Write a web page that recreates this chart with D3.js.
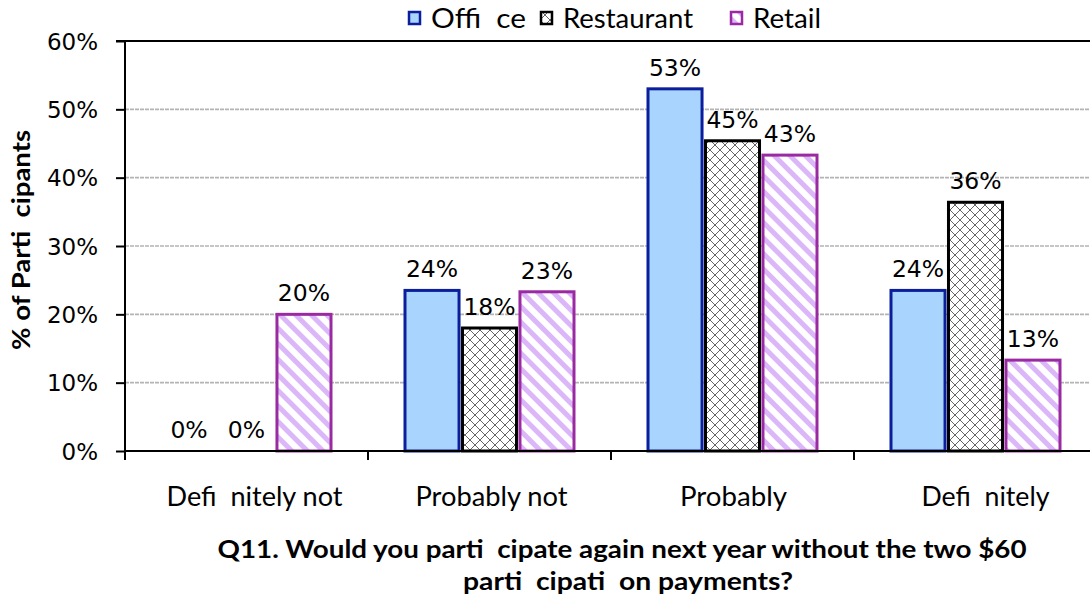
<!DOCTYPE html>
<html><head><meta charset="utf-8">
<script src="https://cdn.jsdelivr.net/npm/d3@7"></script>
<style>body{margin:0;background:#fff}svg{display:block}text{white-space:pre}</style>
</head><body>
<svg id="c" width="1090" height="599"></svg>
<script>
const categories = ["Defi  nitely not", "Probably not", "Probably", "Defi  nitely"];
const seriesNames = ["Offi  ce", "Restaurant", "Retail"];
const office = [0, 23.5, 53, 23.5];
const restaurant = [0, 18, 45.4, 36.4];
const retail = [20, 23.3, 43.3, 13.3];
const yTicks = [0, 10, 20, 30, 40, 50, 60];
const yTitle = "% of Parti  cipants";
const xTitle = ["Q11. Would you parti  cipate again next year without the two $60", "parti  cipati  on payments?"];

const values = [office, restaurant, retail];
const svg = d3.select("#c");
const defs = svg.append("defs");
// crosshatch
const ph = defs.append("pattern").attr("id","hatch").attr("patternUnits","userSpaceOnUse").attr("width",10).attr("height",10);
ph.append("rect").attr("width",10).attr("height",10).attr("fill","#fff");
ph.append("path").attr("d","M0,0L10,10M10,0L0,10M-1,9L1,11M9,-1L11,1M-1,1L1,-1M9,11L11,9").attr("stroke","#666").attr("stroke-width",1);
// stripes
const ps = defs.append("pattern").attr("id","stripe").attr("patternUnits","userSpaceOnUse").attr("width",11).attr("height",11).attr("patternTransform","rotate(45)");
ps.append("rect").attr("width",11).attr("height",11).attr("fill","#fff");
ps.append("rect").attr("width",11).attr("height",5).attr("fill","#dbb6f8");

const styles = [
  {fill:"#a9d4fd", stroke:"#0b1f9c"},
  {fill:"url(#hatch)", stroke:"#000"},
  {fill:"url(#stripe)", stroke:"#9a2aa2"}
];

const pLeft = 125, pTop = 41, pBottom = 451;
const x0 = d3.scaleBand().domain(categories).range([pLeft, pLeft + 4*243]).padding(0);
const x1 = d3.scaleBand().domain(seriesNames).range([37, 206]).paddingInner(0.06);
const y = d3.scaleLinear().domain([0, 60]).range([pBottom, pTop]);

// gridlines
svg.append("g").selectAll("line").data(yTicks.filter(t => t > 0 && t < 60)).join("line")
  .attr("x1", pLeft).attr("x2", 1090).attr("y1", d => y(d)).attr("y2", d => y(d))
  .attr("stroke", "#b4b4b4").attr("stroke-width", 1.6).attr("stroke-dasharray", "4,1");
// top border
svg.append("line").attr("x1", pLeft).attr("x2", 1090).attr("y1", y(60)).attr("y2", y(60)).attr("stroke","#000").attr("stroke-width",2);

// bars
const g = svg.append("g");
categories.forEach((c, i) => {
  seriesNames.forEach((s, j) => {
    const v = values[j][i];
    const bx = x0(c) + x1(s);
    if (v > 0) {
      g.append("rect").attr("x", bx).attr("y", y(v)).attr("width", x1.bandwidth()).attr("height", y(0) - y(v))
        .attr("fill", styles[j].fill).attr("stroke", styles[j].stroke).attr("stroke-width", 3);
    }
    g.append("text").attr("x", bx + x1.bandwidth()/2).attr("y", y(v) - 13).attr("text-anchor","middle")
      .attr("font-family","DejaVu Sans").attr("font-size", 23.5).attr("fill","#000")
      .text(Math.round(v) + "%");
  });
});

// y axis
const ya = svg.append("g").attr("transform", `translate(${pLeft},0)`)
  .call(d3.axisLeft(y).tickValues(yTicks).tickFormat(d => d + "%").tickSize(9).tickPadding(18));
ya.select(".domain").attr("stroke","#000").attr("stroke-width",2).attr("d", `M-9,${pTop}H0V${pBottom}`);
ya.selectAll(".tick line").attr("stroke","#000").attr("stroke-width",2);
ya.selectAll(".tick text").attr("font-family","DejaVu Sans").attr("font-size",23).attr("fill","#000").attr("dy","0.36em");

// x axis
const xa = svg.append("g").attr("transform", `translate(0,${pBottom})`);
xa.append("line").attr("x1", pLeft).attr("x2", 1090).attr("stroke","#000").attr("stroke-width",2);
const bounds = categories.map(c => x0(c));
xa.selectAll("line.tk").data(bounds).join("line").attr("class","tk")
  .attr("x1", d => d).attr("x2", d => d).attr("y1", 0).attr("y2", 9).attr("stroke","#000").attr("stroke-width",2);
const catW = [176, 152, 107, 128];
const catOff = [8, 2, 1, 10];
xa.selectAll("text").data(categories).join("text")
  .attr("x", (d,i) => x0(d) + x0.bandwidth()/2 + catOff[i]).attr("y", 55).attr("text-anchor","middle")
  .attr("font-family","Lato").attr("font-size",26).attr("fill","#000")
  .attr("textLength", (d,i) => catW[i]).attr("lengthAdjust","spacingAndGlyphs")
  .text(d => d);

// x title
const tW = [809, 330], tX = [622, 628], tY = [558, 590];
xTitle.forEach((t, i) => {
  svg.append("text").attr("x", tX[i]).attr("y", tY[i]).attr("text-anchor","middle")
    .attr("font-family","Lato").attr("font-weight","bold").attr("font-size",25).attr("fill","#000")
    .attr("textLength", tW[i]).attr("lengthAdjust","spacingAndGlyphs").text(t);
});

// y title
svg.append("text").attr("transform","translate(30,240) rotate(-90)").attr("text-anchor","middle")
  .attr("font-family","Lato").attr("font-weight","bold").attr("font-size",25).attr("fill","#000")
  .attr("textLength", 220).attr("lengthAdjust","spacingAndGlyphs").text(yTitle);

// legend
const legX = [408, 540, 730], legW = [95, 130, 68];
seriesNames.forEach((s, j) => {
  svg.append("rect").attr("x", legX[j] + 1).attr("y", 12).attr("width", 11).attr("height", 12)
    .attr("fill", styles[j].fill).attr("stroke", styles[j].stroke).attr("stroke-width", 2.5);
  svg.append("text").attr("x", legX[j] + 23).attr("y", 28)
    .attr("font-family","Lato").attr("font-size",26).attr("fill","#000")
    .attr("textLength", legW[j]).attr("lengthAdjust","spacingAndGlyphs").text(s);
});
</script>
</body></html>
